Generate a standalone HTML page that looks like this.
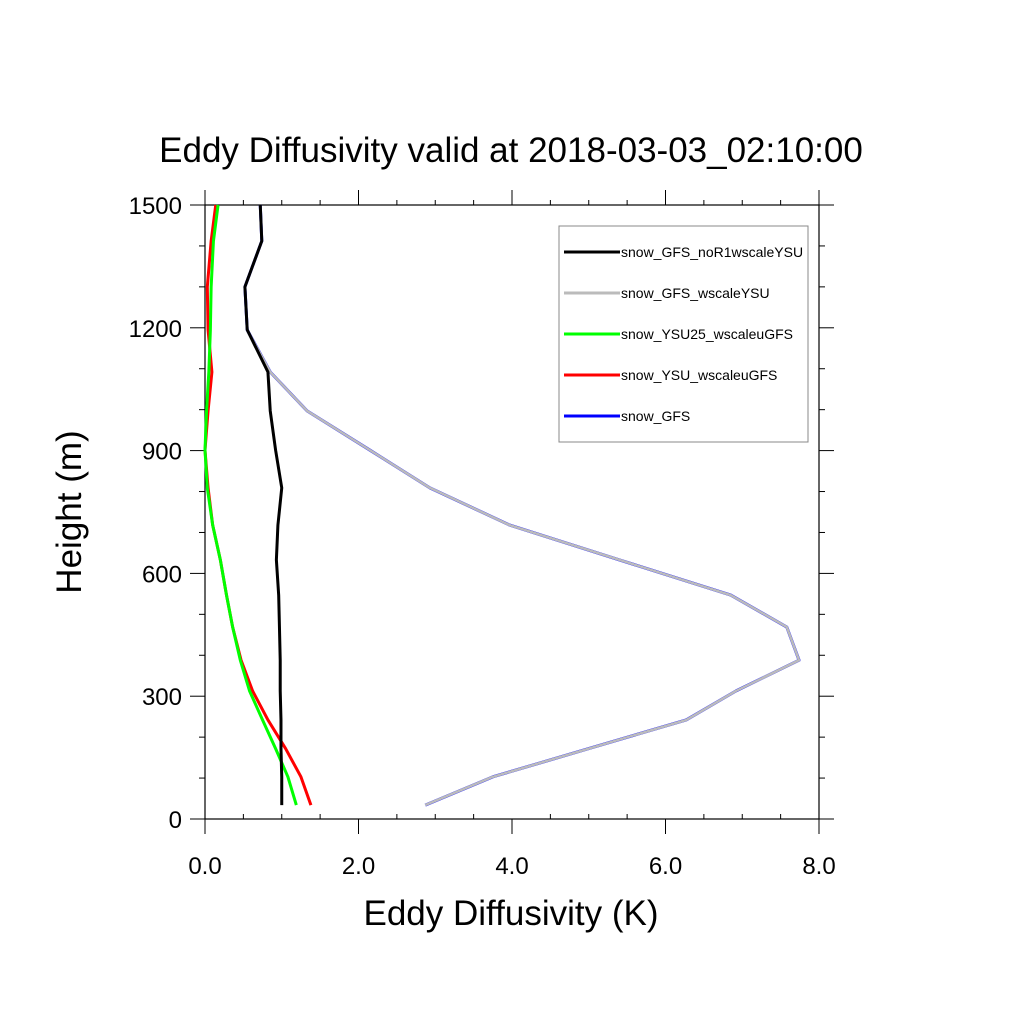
<!DOCTYPE html>
<html><head><meta charset="utf-8"><style>
body{margin:0;background:#fff}
svg text{font-family:"Liberation Sans",sans-serif;fill:#000}
</style></head><body>
<svg id="c" width="1024" height="1024" viewBox="0 0 1024 1024">
<text x="511" y="162" font-size="35" text-anchor="middle">Eddy Diffusivity valid at 2018-03-03_02:10:00</text>
<text x="511" y="925" font-size="35" text-anchor="middle">Eddy Diffusivity (K)</text>
<text transform="translate(81,512) rotate(-90)" font-size="35" text-anchor="middle">Height (m)</text>
<g id="axes"></g>
<g id="series"></g>
<rect x="559" y="226" width="249" height="216" fill="#fff" stroke="#888" stroke-width="1"/>
<g id="legend"></g>
</svg>
<script>
const heights=[34,103,172,242,313,388,469,547,633,718,809,901,997,1092,1195,1300,1412,1500];
const sBlack=[1.0,1.0,0.99,0.99,0.98,0.98,0.97,0.96,0.93,0.95,1.0,0.92,0.85,0.82,0.55,0.52,0.74,0.72];
const sGray=[2.87,3.75,5.0,6.27,6.92,7.74,7.58,6.85,5.4,3.97,2.93,2.15,1.33,0.85,0.55,0.52,0.74,0.72];
const sGreen=[1.19,1.08,0.92,0.75,0.58,0.46,0.36,0.28,0.2,0.1,0.03,0.0,0.02,0.05,0.07,0.08,0.11,0.17];
const sRed=[1.38,1.25,1.05,0.82,0.62,0.47,0.36,0.28,0.2,0.1,0.04,0.0,0.04,0.09,0.04,0.03,0.08,0.14];
const names=["snow_GFS_noR1wscaleYSU","snow_GFS_wscaleYSU","snow_YSU25_wscaleuGFS","snow_YSU_wscaleuGFS","snow_GFS"];
const xTicks=["0.0","2.0","4.0","6.0","8.0"];
const yTicks=["0","300","600","900","1200","1500"];
const NS="http://www.w3.org/2000/svg";
const X0=205,X1=819,Y0=819,Y1=205;
const xs=v=>X0+(X1-X0)*v/8, ys=v=>Y0-(Y0-Y1)*v/1500;
function mk(t,a,p){const e=document.createElementNS(NS,t);for(const k in a)e.setAttribute(k,a[k]);p.appendChild(e);return e;}
const ax=document.getElementById('axes');
const fr=mk('rect',{x:X0,y:Y1,width:X1-X0,height:Y0-Y1,fill:'none',stroke:'#000','stroke-width':1.2},ax);


for(let i=0;i<=16;i++){const x=xs(i*0.5),maj=i%4==0;
 mk('line',{x1:x,x2:x,y1:Y0,y2:maj?Y0+15:Y0-5,stroke:'#000'},ax);
 mk('line',{x1:x,x2:x,y1:Y1,y2:maj?Y1-15:Y1-5,stroke:'#000'},ax);}
for(let i=0;i<=15;i++){const y=ys(i*100),maj=i%3==0;
 mk('line',{x1:X0,x2:maj?X0-15:X0-6,y1:y,y2:y,stroke:'#000'},ax);
 mk('line',{x1:X1,x2:maj?X1+15:X1+6,y1:y,y2:y,stroke:'#000'},ax);}
xTicks.forEach((t,i)=>{const e=mk('text',{x:xs(parseFloat(t)),y:874,'font-size':24,'text-anchor':'middle'},ax);e.textContent=t;
 
 });
yTicks.forEach(t=>{const e=mk('text',{x:182,y:ys(+t)+9,'font-size':24,'text-anchor':'end'},ax);e.textContent=t;
 
 });
const sg=document.getElementById('series');
function line(vals,col,w,name){const p=mk('polyline',{points:vals.map((v,i)=>xs(v)+','+ys(heights[i])).join(' '),fill:'none',stroke:col,'stroke-width':w,'stroke-linejoin':'round'},sg);
 
 }
line(sGray,'#0000ff',3,'line-snow-gfs');
line(sGray,'#bbbbbb',2.6,'line-snow-gfs-wscaleysu');
line(sRed,'#ff0000',3,'line-snow-ysu-wscaleugfs');
line(sGreen,'#00ff00',3,'line-snow-ysu25-wscaleugfs');
line(sBlack,'#000000',3,'line-snow-gfs-nor1wscaleysu');
const cols=['#000','#bbb','#00ff00','#ff0000','#0000ff'];
const lg=document.getElementById('legend');
names.forEach((n,i)=>{const y=252+i*41;
 const l=mk('line',{x1:564,x2:620,y1:y,y2:y,stroke:cols[i],'stroke-width':3},lg);
 
 
 const t=mk('text',{x:621,y:y+5,'font-size':14},lg);t.textContent=n;
 
 });
</script>
</body></html>
